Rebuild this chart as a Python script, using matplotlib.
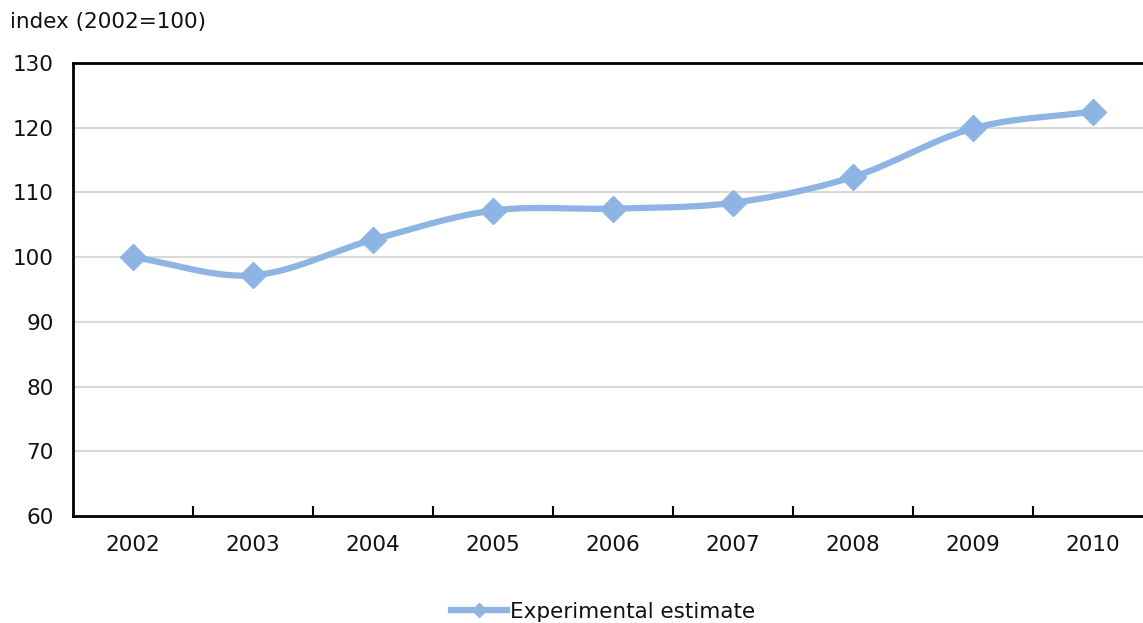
import numpy as np
import matplotlib
matplotlib.use("Agg")
import matplotlib.pyplot as plt
from matplotlib.lines import Line2D

years = ["2002", "2003", "2004", "2005", "2006", "2007", "2008", "2009", "2010"]
experimental_estimate = [100.0, 97.2, 102.7, 107.2, 107.5, 108.4, 112.4, 119.9, 122.5]
y_ticks = [60, 70, 80, 90, 100, 110, 120, 130]

LINE_COLOR = "#8DB4E2"
GRID_COLOR = "#D9D9D9"
TEXT_COLOR = "#111111"
FONT_SIZE = 15.5

plt.rcParams["font.family"] = ["DejaVu Sans"]


def smooth_curve(xs, ys, steps=40):
    """Catmull-Rom spline through the points (smoothed line rendering)."""
    xs = np.asarray(xs, float)
    ys = np.asarray(ys, float)
    px = np.concatenate([[2 * xs[0] - xs[1]], xs, [2 * xs[-1] - xs[-2]]])
    py = np.concatenate([[2 * ys[0] - ys[1]], ys, [2 * ys[-1] - ys[-2]]])
    out_x, out_y = [], []
    t = np.linspace(0, 1, steps, endpoint=False)
    for i in range(1, len(px) - 2):
        for arr, out in ((px, out_x), (py, out_y)):
            p0, p1, p2, p3 = arr[i - 1], arr[i], arr[i + 1], arr[i + 2]
            seg = 0.5 * ((2 * p1) + (-p0 + p2) * t
                         + (2 * p0 - 5 * p1 + 4 * p2 - p3) * t ** 2
                         + (-p0 + 3 * p1 - 3 * p2 + p3) * t ** 3)
            out.extend(seg)
    out_x.append(xs[-1])
    out_y.append(ys[-1])
    return np.array(out_x), np.array(out_y)


fig = plt.figure(figsize=(11.43, 6.23), dpi=100)
ax = fig.add_axes([73 / 1143, 107 / 623, 1080 / 1143, 453 / 623])

x = np.arange(len(years))
sx, sy = smooth_curve(x, experimental_estimate)
ax.plot(sx, sy, color=LINE_COLOR, lw=4.5, solid_capstyle="round", zorder=3)
ax.plot(x, experimental_estimate, linestyle="none", marker="D", markersize=13,
        color=LINE_COLOR, zorder=4)

ax.set_xlim(-0.5, len(years) - 0.5)
ax.set_ylim(60, 130)
ax.set_yticks(y_ticks)
ax.set_yticklabels([str(v) for v in y_ticks], fontsize=FONT_SIZE, color=TEXT_COLOR)
ax.set_xticks(x)
ax.set_xticklabels(years, fontsize=FONT_SIZE, color=TEXT_COLOR)
ax.tick_params(axis="x", length=0, pad=14)
ax.tick_params(axis="y", length=0, pad=14)

# category boundary ticks on the bottom axis
ax.set_xticks(np.arange(0.5, len(years) - 0.5, 1), minor=True)
ax.tick_params(axis="x", which="minor", direction="in", length=7, width=1.5, color="black")

for v in y_ticks[1:-1]:
    ax.axhline(v, color=GRID_COLOR, lw=1.5, zorder=1)

for side in ("left", "bottom", "top"):
    ax.spines[side].set_linewidth(2)
    ax.spines[side].set_color("black")
ax.spines["right"].set_visible(False)

fig.text(10 / 1143, 1 - 22 / 623, "index (2002=100)", fontsize=FONT_SIZE,
         ha="left", va="center", color=TEXT_COLOR)

handle = Line2D([], [], color=LINE_COLOR, lw=4.5, marker="D", markersize=7)
fig.legend([handle], ["Experimental estimate"], loc="center",
           bbox_to_anchor=(603 / 1143, 1 - 612 / 623), frameon=False,
           fontsize=FONT_SIZE, handlelength=2.6, handletextpad=0.15,
           labelcolor=TEXT_COLOR)

fig.savefig("out.png", dpi=100)
